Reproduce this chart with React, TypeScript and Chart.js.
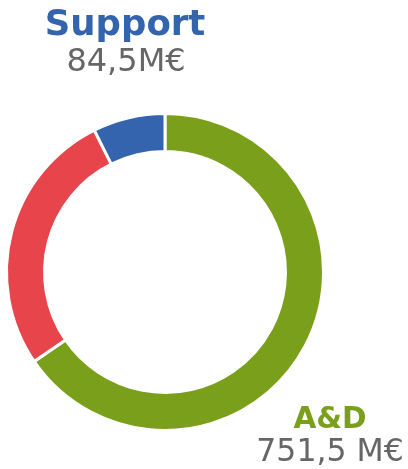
import React, { useEffect, useRef } from "react";
import { Chart, registerables } from "chart.js";

Chart.register(...registerables);

const labels = ["A&D", "Autres", "Support"];
const values = [751.5, 312, 84.5];
const colors = ["#7a9f1a", "#e8444b", "#3464ae"];
const valueTexts = ["751,5 M€", "", "84,5M€"];

const FONT = 'Verdana, "DejaVu Sans", sans-serif';

const textPlugin = {
  id: "cornerLabels",
  afterDraw(chart: any) {
    const ctx = chart.ctx;
    ctx.save();
    ctx.textAlign = "center";
    ctx.textBaseline = "alphabetic";
    // Support label (top-left)
    ctx.font = `bold 35.5px ${FONT}`;
    ctx.fillStyle = colors[2];
    ctx.fillText(labels[2], 125, 35);
    ctx.font = `32px ${FONT}`;
    ctx.fillStyle = "#666666";
    ctx.fillText(valueTexts[2], 126, 71);
    // A&D label (bottom-right)
    ctx.font = `bold 29.5px ${FONT}`;
    ctx.fillStyle = colors[0];
    ctx.fillText(labels[0], 330, 428);
    ctx.font = `31.5px ${FONT}`;
    ctx.fillStyle = "#666666";
    ctx.fillText(valueTexts[0], 330, 461);
    ctx.restore();
  },
};

export default function App() {
  const ref = useRef<HTMLCanvasElement>(null);
  useEffect(() => {
    if (!ref.current) return;
    const chart = new Chart(ref.current, {
      type: "doughnut",
      data: {
        labels,
        datasets: [
          {
            data: values,
            backgroundColor: colors,
            borderColor: "#ffffff",
            borderWidth: 3,
          },
        ],
      },
      options: {
        responsive: false,
        animation: false,
        cutout: "76%",
        layout: { padding: { left: 5, right: 83, top: 112, bottom: 37 } },
        plugins: {
          legend: { display: false },
          tooltip: { enabled: false },
        },
      },
      plugins: [textPlugin],
    });
    return () => chart.destroy();
  }, []);
  return (
    <div style={{ position: "fixed", left: 0, top: 0, width: 408, height: 469, background: "#fff" }}>
      <canvas ref={ref} width={408} height={469} style={{ display: "block" }} />
    </div>
  );
}
